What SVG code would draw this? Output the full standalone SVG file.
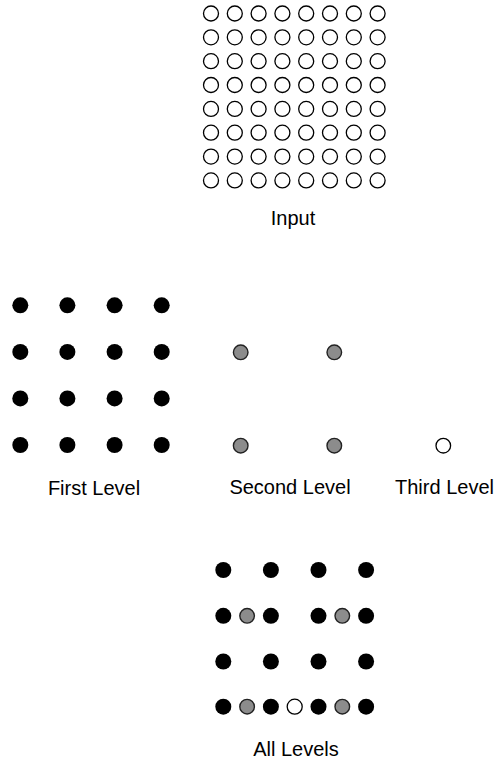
<svg xmlns="http://www.w3.org/2000/svg" width="494" height="764" viewBox="0 0 494 764">
<style>
.o{fill:#fff;stroke:#000;stroke-width:1.3}
.b{fill:#000}
.g{fill:#8c8c8c;stroke:#222;stroke-width:1.4}
.t{font-family:"Liberation Sans",Arial,sans-serif;font-size:20px;fill:#000;text-anchor:middle}
</style>
<rect width="494" height="764" fill="#fff"/>
<g id="input">
<g id="input-row1"><circle class="o" cx="211" cy="13.5" r="7.5"/><circle class="o" cx="234.8" cy="13.5" r="7.5"/><circle class="o" cx="258.6" cy="13.5" r="7.5"/><circle class="o" cx="282.4" cy="13.5" r="7.5"/><circle class="o" cx="306.2" cy="13.5" r="7.5"/><circle class="o" cx="330" cy="13.5" r="7.5"/><circle class="o" cx="353.8" cy="13.5" r="7.5"/><circle class="o" cx="377.6" cy="13.5" r="7.5"/></g>
<g id="input-row2"><circle class="o" cx="211" cy="37.3" r="7.5"/><circle class="o" cx="234.8" cy="37.3" r="7.5"/><circle class="o" cx="258.6" cy="37.3" r="7.5"/><circle class="o" cx="282.4" cy="37.3" r="7.5"/><circle class="o" cx="306.2" cy="37.3" r="7.5"/><circle class="o" cx="330" cy="37.3" r="7.5"/><circle class="o" cx="353.8" cy="37.3" r="7.5"/><circle class="o" cx="377.6" cy="37.3" r="7.5"/></g>
<g id="input-row3"><circle class="o" cx="211" cy="61.2" r="7.5"/><circle class="o" cx="234.8" cy="61.2" r="7.5"/><circle class="o" cx="258.6" cy="61.2" r="7.5"/><circle class="o" cx="282.4" cy="61.2" r="7.5"/><circle class="o" cx="306.2" cy="61.2" r="7.5"/><circle class="o" cx="330" cy="61.2" r="7.5"/><circle class="o" cx="353.8" cy="61.2" r="7.5"/><circle class="o" cx="377.6" cy="61.2" r="7.5"/></g>
<g id="input-row4"><circle class="o" cx="211" cy="85" r="7.5"/><circle class="o" cx="234.8" cy="85" r="7.5"/><circle class="o" cx="258.6" cy="85" r="7.5"/><circle class="o" cx="282.4" cy="85" r="7.5"/><circle class="o" cx="306.2" cy="85" r="7.5"/><circle class="o" cx="330" cy="85" r="7.5"/><circle class="o" cx="353.8" cy="85" r="7.5"/><circle class="o" cx="377.6" cy="85" r="7.5"/></g>
<g id="input-row5"><circle class="o" cx="211" cy="108.9" r="7.5"/><circle class="o" cx="234.8" cy="108.9" r="7.5"/><circle class="o" cx="258.6" cy="108.9" r="7.5"/><circle class="o" cx="282.4" cy="108.9" r="7.5"/><circle class="o" cx="306.2" cy="108.9" r="7.5"/><circle class="o" cx="330" cy="108.9" r="7.5"/><circle class="o" cx="353.8" cy="108.9" r="7.5"/><circle class="o" cx="377.6" cy="108.9" r="7.5"/></g>
<g id="input-row6"><circle class="o" cx="211" cy="132.7" r="7.5"/><circle class="o" cx="234.8" cy="132.7" r="7.5"/><circle class="o" cx="258.6" cy="132.7" r="7.5"/><circle class="o" cx="282.4" cy="132.7" r="7.5"/><circle class="o" cx="306.2" cy="132.7" r="7.5"/><circle class="o" cx="330" cy="132.7" r="7.5"/><circle class="o" cx="353.8" cy="132.7" r="7.5"/><circle class="o" cx="377.6" cy="132.7" r="7.5"/></g>
<g id="input-row7"><circle class="o" cx="211" cy="156.6" r="7.5"/><circle class="o" cx="234.8" cy="156.6" r="7.5"/><circle class="o" cx="258.6" cy="156.6" r="7.5"/><circle class="o" cx="282.4" cy="156.6" r="7.5"/><circle class="o" cx="306.2" cy="156.6" r="7.5"/><circle class="o" cx="330" cy="156.6" r="7.5"/><circle class="o" cx="353.8" cy="156.6" r="7.5"/><circle class="o" cx="377.6" cy="156.6" r="7.5"/></g>
<g id="input-row8"><circle class="o" cx="211" cy="180.4" r="7.5"/><circle class="o" cx="234.8" cy="180.4" r="7.5"/><circle class="o" cx="258.6" cy="180.4" r="7.5"/><circle class="o" cx="282.4" cy="180.4" r="7.5"/><circle class="o" cx="306.2" cy="180.4" r="7.5"/><circle class="o" cx="330" cy="180.4" r="7.5"/><circle class="o" cx="353.8" cy="180.4" r="7.5"/><circle class="o" cx="377.6" cy="180.4" r="7.5"/></g>
<text class="t" x="293" y="225">Input</text>
</g>
<g id="first-level">
<circle class="b" cx="20.3" cy="305.3" r="8"/><circle class="b" cx="67.4" cy="305.3" r="8"/><circle class="b" cx="114.6" cy="305.3" r="8"/><circle class="b" cx="161.7" cy="305.3" r="8"/>
<circle class="b" cx="20.3" cy="351.9" r="8"/><circle class="b" cx="67.4" cy="351.9" r="8"/><circle class="b" cx="114.6" cy="351.9" r="8"/><circle class="b" cx="161.7" cy="351.9" r="8"/>
<circle class="b" cx="20.3" cy="398.4" r="8"/><circle class="b" cx="67.4" cy="398.4" r="8"/><circle class="b" cx="114.6" cy="398.4" r="8"/><circle class="b" cx="161.7" cy="398.4" r="8"/>
<circle class="b" cx="20.3" cy="445" r="8"/><circle class="b" cx="67.4" cy="445" r="8"/><circle class="b" cx="114.6" cy="445" r="8"/><circle class="b" cx="161.7" cy="445" r="8"/>
<text class="t" x="94" y="495">First Level</text>
</g>
<g id="second-level">
<circle class="g" cx="240.7" cy="352.3" r="7.3"/><circle class="g" cx="334.3" cy="352.3" r="7.3"/>
<circle class="g" cx="240.7" cy="445.7" r="7.3"/><circle class="g" cx="334.3" cy="445.7" r="7.3"/>
<text class="t" x="290" y="494">Second Level</text>
</g>
<g id="third-level">
<circle class="o" cx="443.3" cy="445.7" r="7.3"/>
<text class="t" x="444.5" y="494">Third Level</text>
</g>
<g id="all-levels">
<circle class="b" cx="223.3" cy="570" r="8"/><circle class="b" cx="270.9" cy="570" r="8"/><circle class="b" cx="318.5" cy="570" r="8"/><circle class="b" cx="366.1" cy="570" r="8"/>
<circle class="b" cx="223.3" cy="615.8" r="8"/><circle class="g" cx="247.1" cy="615.8" r="7.3"/><circle class="b" cx="270.9" cy="615.8" r="8"/><circle class="b" cx="318.5" cy="615.8" r="8"/><circle class="g" cx="342.3" cy="615.8" r="7.3"/><circle class="b" cx="366.1" cy="615.8" r="8"/>
<circle class="b" cx="223.3" cy="661.5" r="8"/><circle class="b" cx="270.9" cy="661.5" r="8"/><circle class="b" cx="318.5" cy="661.5" r="8"/><circle class="b" cx="366.1" cy="661.5" r="8"/>
<circle class="b" cx="223.3" cy="706.7" r="8"/><circle class="g" cx="247.1" cy="706.7" r="7.3"/><circle class="b" cx="270.9" cy="706.7" r="8"/><circle class="o" cx="294.7" cy="706.7" r="7.5"/><circle class="b" cx="318.5" cy="706.7" r="8"/><circle class="g" cx="342.3" cy="706.7" r="7.3"/><circle class="b" cx="366.1" cy="706.7" r="8"/>
<text class="t" x="296" y="755.5">All Levels</text>
</g>
<g id="connectors"/>
</svg>
